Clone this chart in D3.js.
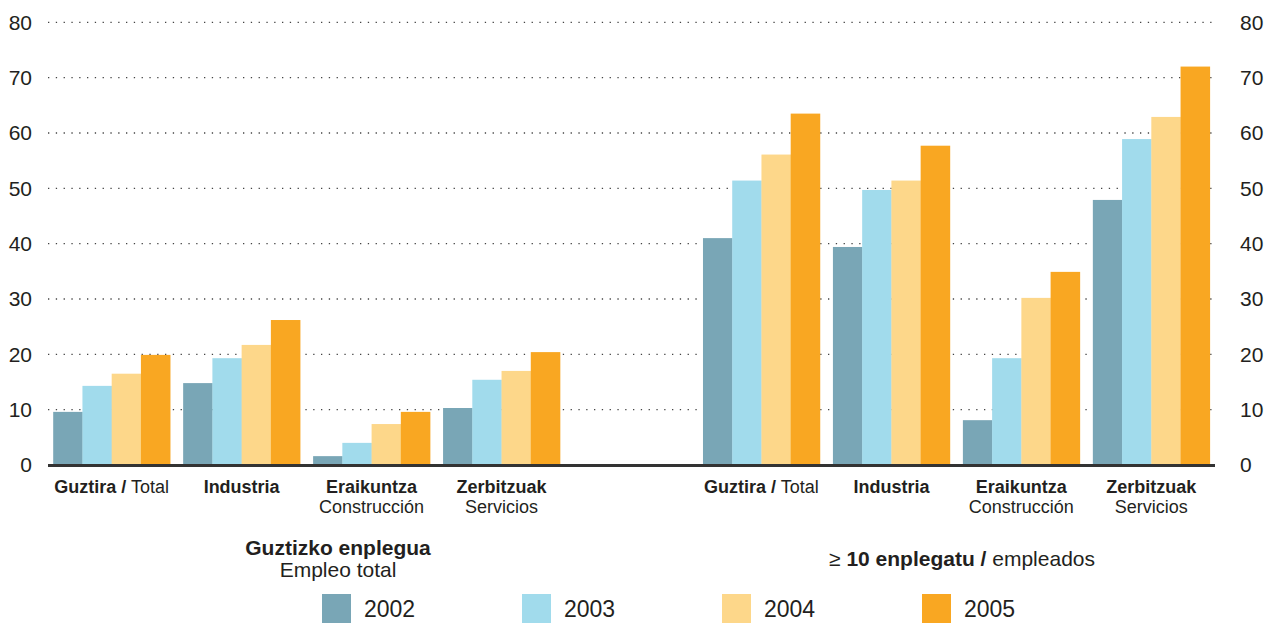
<!DOCTYPE html>
<meta charset="utf-8">
<script src="https://d3js.org/d3.v7.min.js"></script>
<style>
  body { margin: 0; background: #fff; }
  text { font-family: "Liberation Sans", Arial, sans-serif; fill: #231f20; }
  .tick-label { font-size: 21px; }
  .cat { font-size: 18px; }
  .title { font-size: 21px; }
  .legend-label { font-size: 23px; }
</style>
<div id="chart"></div>
<script>
// data
const years = ["2002", "2003", "2004", "2005"];
const colors = ["#79a6b6", "#a1dbec", "#fdd78a", "#f9a722"];
// bold name, plain name (second line or after slash)
const catBold = ["Guztira /", "Industria", "Eraikuntza", "Zerbitzuak"];
const catPlain = ["Total", "", "Construcción", "Servicios"];
// slots: 4 left groups (guztizko enplegua), empty slot, 4 right groups (>= 10 enplegatu)
const slots = ["L0", "L1", "L2", "L3", "gap", "R0", "R1", "R2", "R3"];
const groupSlots = ["L0", "L1", "L2", "L3", "R0", "R1", "R2", "R3"];
const v2002 = [9.6, 14.8, 1.6, 10.3, 41.0, 39.4, 8.1, 47.9];
const v2003 = [14.3, 19.3, 4.0, 15.4, 51.4, 49.7, 19.3, 58.9];
const v2004 = [16.5, 21.7, 7.4, 17.0, 56.1, 51.4, 30.2, 62.9];
const v2005 = [19.9, 26.2, 9.6, 20.4, 63.5, 57.7, 34.9, 72.0];
const series = [v2002, v2003, v2004, v2005];
const yTicks = [0, 10, 20, 30, 40, 50, 60, 70, 80];

const W = 1274, H = 623;
const svg = d3.select("#chart").append("svg")
    .attr("width", W).attr("height", H);

const x0 = d3.scaleBand().domain(slots).range([48, 1215])
    .paddingInner(0.1).paddingOuter(0.04);
const x1 = d3.scaleBand().domain(years).range([0, x0.bandwidth()]);
const y = d3.scaleLinear().domain([0, 80]).range([465, 22.3]);

// dotted grid lines
svg.append("g").selectAll("line")
  .data(yTicks.filter(d => d > 0))
  .join("line")
    .attr("x1", 48).attr("x2", 1215)
    .attr("y1", d => y(d)).attr("y2", d => y(d))
    .attr("stroke", "#444")
    .attr("stroke-width", 1.3)
    .attr("stroke-dasharray", "1.3,6.5");

// tick labels both sides
const leftAxis = d3.axisLeft(y).tickValues(yTicks).tickSize(0).tickPadding(0);
const gl = svg.append("g").attr("transform", "translate(32,0)").call(leftAxis);
const rightAxis = d3.axisRight(y).tickValues(yTicks).tickSize(0).tickPadding(0);
const gr = svg.append("g").attr("transform", "translate(1240,0)").call(rightAxis);
[gl, gr].forEach(g => {
  g.select(".domain").remove();
  g.selectAll("text").attr("class", "tick-label")
    .attr("font-family", null).attr("font-size", null);
});

// bars
const rows = groupSlots.map((s, i) => ({slot: s, vals: series.map((sv, k) => ({year: years[k], v: sv[i], c: colors[k]}))}));
svg.append("g").selectAll("g")
  .data(rows)
  .join("g")
    .attr("transform", d => `translate(${x0(d.slot)},0)`)
  .selectAll("rect")
  .data(d => d.vals)
  .join("rect")
    .attr("x", d => x1(d.year))
    .attr("width", x1.bandwidth() + 0.3)
    .attr("y", d => y(d.v))
    .attr("height", d => y(0) - y(d.v))
    .attr("fill", d => d.c);

// baseline
svg.append("line")
  .attr("x1", 48).attr("x2", 1215)
  .attr("y1", y(0) + 0.5).attr("y2", y(0) + 0.5)
  .attr("stroke", "#333").attr("stroke-width", 3);

// category labels
groupSlots.forEach((s, i) => {
  const k = i % 4;
  const cx = x0(s) + x0.bandwidth() / 2;
  if (k === 0) {
    const t = svg.append("text").attr("class", "cat")
      .attr("x", cx).attr("y", 493).attr("text-anchor", "middle");
    t.append("tspan").attr("font-weight", "bold").text(catBold[k]);
    t.append("tspan").text(" " + catPlain[k]);
  } else {
    svg.append("text").attr("class", "cat")
      .attr("x", cx).attr("y", 493).attr("text-anchor", "middle")
      .attr("font-weight", "bold").text(catBold[k]);
    if (catPlain[k]) {
      svg.append("text").attr("class", "cat")
        .attr("x", cx).attr("y", 513).attr("text-anchor", "middle")
        .text(catPlain[k]);
    }
  }
});

// section titles
svg.append("text").attr("class", "title")
  .attr("x", 338).attr("y", 555).attr("text-anchor", "middle")
  .attr("font-weight", "bold").text("Guztizko enplegua");
svg.append("text").attr("class", "title")
  .attr("x", 338).attr("y", 577).attr("text-anchor", "middle")
  .text("Empleo total");
const rt = svg.append("text").attr("class", "title")
  .attr("x", 962).attr("y", 566).attr("text-anchor", "middle");
rt.append("tspan").text("≥ ");
rt.append("tspan").attr("font-weight", "bold").text("10 enplegatu /");
rt.append("tspan").text(" empleados");

// legend
const leg = svg.append("g").selectAll("g")
  .data(years)
  .join("g")
    .attr("transform", (d, i) => `translate(${322 + i * 200},594)`);
leg.append("rect")
  .attr("width", 29).attr("height", 29)
  .attr("fill", (d, i) => colors[i]);
leg.append("text").attr("class", "legend-label")
  .attr("x", 42).attr("y", 23)
  .text(d => d);
</script>
